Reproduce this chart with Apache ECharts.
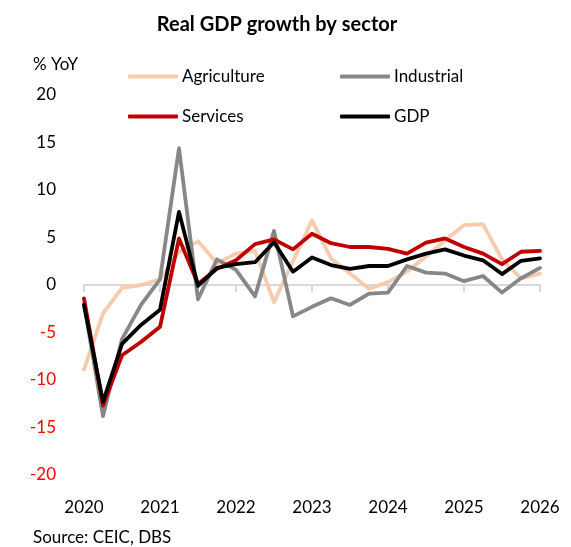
<!DOCTYPE html>
<html>
<head>
<meta charset="utf-8">
<script src="https://cdn.jsdelivr.net/npm/echarts@6/dist/echarts.min.js"></script>
<style>
  html, body { margin: 0; padding: 0; background: #fff; }
  #chart { width: 571px; height: 547px; }
</style>
</head>
<body>
<div id="chart"></div>
<script>
// Quarterly periods, 2020Q1 .. 2026Q1
const quarters = [
  '2020Q1','2020Q2','2020Q3','2020Q4',
  '2021Q1','2021Q2','2021Q3','2021Q4',
  '2022Q1','2022Q2','2022Q3','2022Q4',
  '2023Q1','2023Q2','2023Q3','2023Q4',
  '2024Q1','2024Q2','2024Q3','2024Q4',
  '2025Q1','2025Q2','2025Q3','2025Q4',
  '2026Q1'
];

// Real growth, % YoY
const agriculture = [-8.9, -3.0, -0.3, 0.0, 0.6, 3.5, 4.6, 2.3, 3.3, 3.6, -1.8, 2.5, 6.8, 2.8, 1.2, -0.4, 0.3, 1.4, 3.0, 4.7, 6.3, 6.4, 2.7, 0.7, 1.2];
const industrial  = [-2.0, -13.8, -5.7, -2.1, 0.6, 14.4, -1.5, 2.7, 1.6, -1.2, 5.7, -3.3, -2.3, -1.4, -2.1, -0.9, -0.8, 2.0, 1.3, 1.2, 0.4, 0.95, -0.8, 0.7, 1.8];
const services    = [-1.4, -12.7, -7.4, -6.0, -4.4, 4.9, 0.1, 1.7, 2.6, 4.3, 4.8, 3.75, 5.4, 4.4, 4.0, 4.0, 3.8, 3.3, 4.45, 4.9, 4.0, 3.3, 2.2, 3.5, 3.6];
const gdp         = [-2.1, -12.3, -6.2, -4.2, -2.6, 7.7, -0.1, 1.8, 2.2, 2.4, 4.5, 1.4, 2.9, 2.1, 1.7, 2.0, 2.0, 2.7, 3.3, 3.75, 3.1, 2.6, 1.15, 2.55, 2.8];

const seriesNames = ['Agriculture', 'Industrial', 'Services', 'GDP'];
const yTicks = { min: -20, max: 20, step: 5 };

const FONT = 'Lato, "Open Sans", sans-serif';
const colors = {
  Agriculture: '#F8CBAD',
  Industrial: '#878787',
  Services: '#C00000',
  GDP: '#000000'
};
const values = { Agriculture: agriculture, Industrial: industrial, Services: services, GDP: gdp };

const chart = echarts.init(document.getElementById('chart'), null, { renderer: 'canvas' });

function lineSeries(name) {
  return {
    name: name,
    type: 'line',
    xAxisIndex: 0,
    yAxisIndex: 0,
    data: values[name],
    symbol: 'none',
    smooth: false,
    animation: false,
    lineStyle: { color: colors[name], width: 3.8, cap: 'round', join: 'round' },
    itemStyle: { color: colors[name] },
    emphasis: { disabled: true }
  };
}

// one legend block per entry, laid out on a 2x2 grid
const legendSlots = [
  { name: 'Agriculture', left: 128, top: 68 },
  { name: 'Industrial',  left: 340, top: 68 },
  { name: 'Services',    left: 128, top: 108 },
  { name: 'GDP',         left: 340, top: 108 }
];

const option = {
  backgroundColor: '#ffffff',
  animation: false,
  title: {
    text: 'Real GDP growth by sector',
    left: 272,
    top: 10,
    textAlign: 'center',
    textStyle: { fontFamily: FONT, fontWeight: 'bold', fontSize: 20, color: '#000' }
  },
  legend: legendSlots.map(s => ({
    data: [s.name],
    left: s.left,
    top: s.top,
    padding: 0,
    icon: 'roundRect',
    itemWidth: 50,
    itemHeight: 4,
    itemGap: 0,
    selectedMode: false,
    textStyle: { fontFamily: FONT, fontSize: 17, color: '#000', padding: [0, 0, 0, -1] }
  })),
  graphic: [
    {
      type: 'text', left: 33, top: 56,
      style: { text: '% YoY', font: '17px ' + FONT, fill: '#000' }
    },
    {
      type: 'text', left: 33, top: 529,
      style: { text: 'Source: CEIC, DBS', font: '17px ' + FONT, fill: '#000' }
    }
  ],
  grid: { left: 84, right: 31, top: 95, bottom: 72, containLabel: false },
  xAxis: [
    {
      type: 'category',
      data: quarters,
      boundaryGap: false,
      position: 'bottom',
      axisLine: { show: false, onZero: false },
      axisTick: { show: false },
      splitLine: { show: false },
      axisLabel: {
        interval: 3,
        margin: 24,
        fontFamily: FONT,
        fontSize: 17,
        color: '#000',
        formatter: v => v.slice(0, 4)
      }
    },
    {
      // zero line with yearly ticks
      type: 'category',
      data: quarters,
      boundaryGap: false,
      position: 'top',
      axisLine: { show: true, onZero: true, lineStyle: { color: '#D9D9D9', width: 2 } },
      axisTick: { show: true, inside: true, interval: 3, length: 7, lineStyle: { color: '#D9D9D9', width: 2 } },
      axisLabel: { show: false },
      splitLine: { show: false }
    }
  ],
  yAxis: {
    type: 'value',
    min: yTicks.min,
    max: yTicks.max,
    interval: yTicks.step,
    axisLine: { show: false },
    axisTick: { show: false },
    splitLine: { show: false },
    axisLabel: {
      margin: 28,
      fontFamily: FONT,
      fontSize: 17,
      color: v => (Number(v) < 0 ? '#FF0000' : '#000000')
    }
  },
  series: seriesNames.map(lineSeries)
};

chart.setOption(option);
</script>
</body>
</html>
